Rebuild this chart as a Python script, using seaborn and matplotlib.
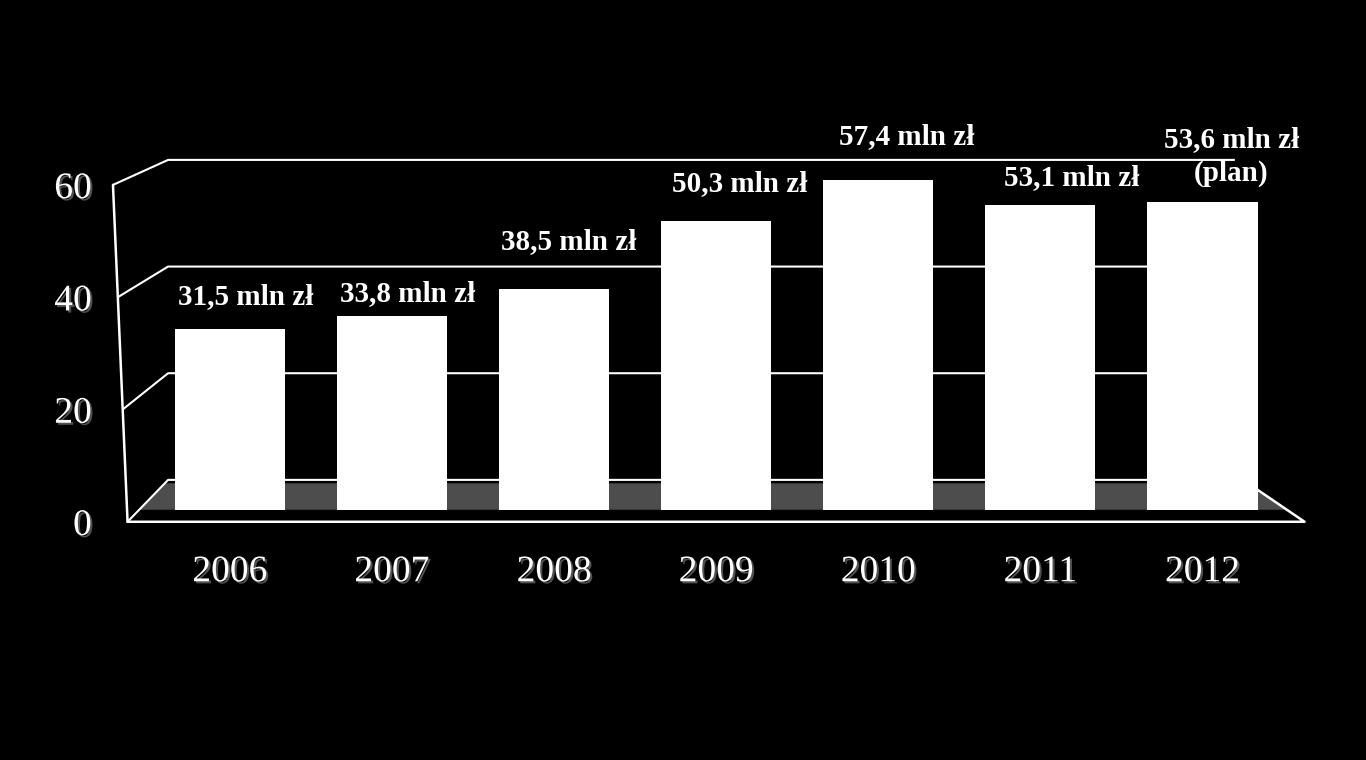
import numpy as np
import pandas as pd
import seaborn as sns
import matplotlib
matplotlib.use("Agg")
import matplotlib.pyplot as plt
import matplotlib.patheffects as pe

# ---------------- data ----------------
years = ["2006", "2007", "2008", "2009", "2010", "2011", "2012"]
values = [31.5, 33.8, 38.5, 50.3, 57.4, 53.1, 53.6]
value_labels = ["31,5 mln zł", "33,8 mln zł", "38,5 mln zł", "50,3 mln zł",
                "57,4 mln zł", "53,1 mln zł", "53,6 mln zł\n(plan)"]
y_ticks = [0, 20, 40, 60]

# ---------------- style ----------------
LABEL_DX = [16, 16, 15, 24, 29, 31, 29]      # pixel offsets of value labels
LABEL_DY = [32, 22, 47, 37, 43, 27, 45]

sns.set_theme(style="dark")
plt.rcParams["font.family"] = ["Liberation Serif", "DejaVu Serif"]

fig = plt.figure(figsize=(13.66, 7.6), dpi=100, facecolor="black")
ax = fig.add_axes([100 / 1366, (760 - 527) / 760, (1324 - 100) / 1366, (527 - 96) / 760])
ax.set_facecolor("black")

df = pd.DataFrame({"year": years, "value": values})
sns.barplot(data=df, x="year", y="value", color="white", saturation=1,
            width=0.68, edgecolor="none", ax=ax, zorder=3)

ax.set_xlim(-0.8, 6.75)
ax.set_ylim(-3, 72)

# pseudo-3D frame (perspective decoration)
def back_y(v):
    return 5.2 + 0.928 * v

def front_y(v):
    return -2.09 + 0.977 * v

def front_x(v):
    return -0.63 - 0.0015 * v

xb0, xb1 = -0.38, 6.2
x_front_right = 6.63
xb_right_floor = xb1 + 0.05

def on_diag(x_front, x_back, y):
    t = (y - front_y(0)) / (back_y(0) - front_y(0))
    return x_front + t * (x_back - x_front)

# grey floor band (shadow region under the bars)
y_lo, y_hi = 0.0, back_y(0) - 0.6
ax.fill([on_diag(front_x(0), xb0, y_lo), on_diag(x_front_right, xb_right_floor, y_lo),
         on_diag(x_front_right, xb_right_floor, y_hi), on_diag(front_x(0), xb0, y_hi)],
        [y_lo, y_lo, y_hi, y_hi], color="#4d4d4d", zorder=1, lw=0)

for v in y_ticks:
    ax.plot([front_x(v), xb0, xb1], [front_y(v), back_y(v), back_y(v)],
            color="white", lw=1.5, zorder=2, solid_capstyle="butt")
ax.plot([front_x(60), front_x(0)], [front_y(60), front_y(0)], color="white", lw=1.8, zorder=4)
ax.plot([front_x(0), x_front_right, xb_right_floor], [front_y(0), front_y(0), back_y(0)],
        color="white", lw=1.8, zorder=4)

# value labels
for i, (v, t) in enumerate(zip(values, value_labels)):
    ax.annotate(t, xy=(i, v), xytext=(LABEL_DX[i], LABEL_DY[i]), textcoords="offset pixels",
                ha="center", va="center", fontsize=21, fontweight="bold", color="white",
                linespacing=1.3, zorder=5)

# ticks
ax.set_yticks([front_y(v) for v in y_ticks], labels=[str(v) for v in y_ticks])
ax.tick_params(axis="y", length=0, pad=6, labelsize=27, labelcolor="white")
ax.tick_params(axis="x", length=0, pad=20, labelsize=27, labelcolor="white")
ax.set_xlabel("")
ax.set_ylabel("")
ax.grid(False)
for s in ax.spines.values():
    s.set_visible(False)

shadow = [pe.SimplePatchShadow(offset=(1.5, -1.5), shadow_rgbFace=(0.4, 0.4, 0.4), alpha=0.8),
          pe.Normal()]
for lbl in ax.get_xticklabels() + ax.get_yticklabels():
    lbl.set_path_effects(shadow)

fig.savefig("out.png", dpi=100, facecolor="black")
